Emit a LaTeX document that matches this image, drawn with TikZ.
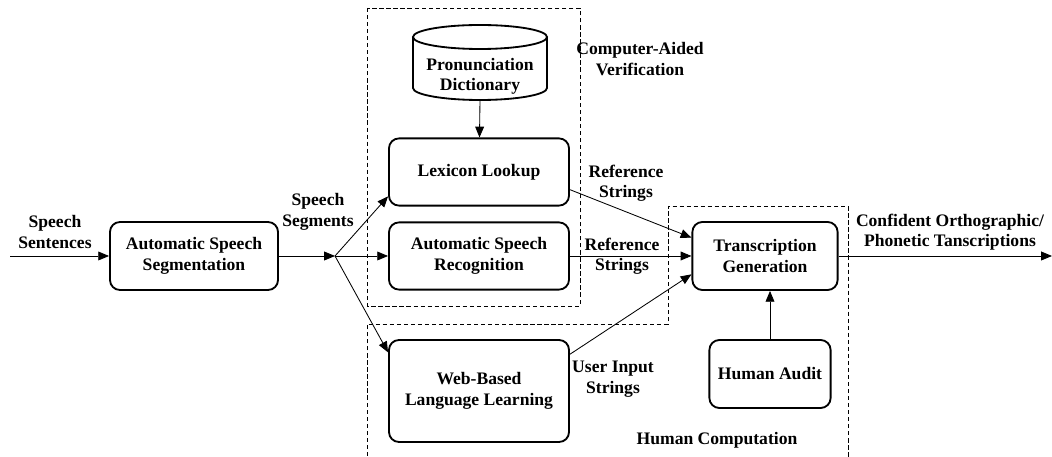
\documentclass[tikz,border=0pt]{standalone}
\usepackage{fontspec}
\setmainfont{Liberation Serif}
\usetikzlibrary{arrows.meta}

\tikzset{
	box/.style={draw, line width=1.3pt, rounded corners=0.25cm, fill=white, align=center, font=\fontsize{12.5}{14.5}\selectfont\bfseries},
	lbl/.style={align=center, font=\fontsize{12.5}{14.5}\selectfont\bfseries},
	arr/.style={-{Triangle[length=0.27cm,width=0.22cm]}, line width=0.6pt},
	area/.style={dashed, dash pattern=on 3pt off 2pt, line width=0.7pt}
}

\begin{document}
\begin{tikzpicture}[x=0.025cm, y=-0.025cm]
		\useasboundingbox (0,0) rectangle (1052,457);
		\draw[area] (367,8) rectangle (580,306);
		\draw[area] (367,470) -- (367,324) -- (668,324) -- (668,206) -- (848,206) -- (848,470);
		\draw[line width=1.3pt, fill=white] (413,37) -- (413,88) arc[start angle=180, end angle=0, x radius=67, y radius=12] -- (547,37);
		\draw[line width=1.3pt] (480,37) ellipse[x radius=67, y radius=12];
		\node[box, minimum width=4.2cm, minimum height=1.7cm] (seg) at (194,256) {Automatic Speech\\Segmentation};
		\node[box, minimum width=4.5cm, minimum height=1.68cm] (lex) at (479,172) {Lexicon Lookup};
		\node[box, minimum width=4.5cm, minimum height=1.68cm] (asr) at (479,256) {Automatic Speech\\Recognition};
		\node[box, minimum width=4.5cm, minimum height=2.55cm] (web) at (479,391) {Web-Based\\Language Learning};
		\node[box, minimum width=3.63cm, minimum height=1.7cm] (tg) at (765,256) {Transcription\\Generation};
		\node[box, minimum width=3.03cm, minimum height=1.7cm] (ha) at (770,374) {Human Audit};
		\node[lbl] (dict) at (480,76) {Pronunciation\\Dictionary};
		\coordinate (dictbase) at (480,100);
		\coordinate (in) at (10,256);
		\coordinate (split) at (335,256);
		\coordinate (out) at (1052,256);
		\draw[arr] (in) -- (seg);
		\draw[arr] (seg) -- (split);
		\draw[arr] (split) -- (lex.195);
		\draw[arr] (split) -- (asr);
		\draw[arr] (split) -- (web.157);
		\draw[arr] (dictbase) -- (lex);
		\draw[arr] (lex.-11) -- (tg.166);
		\draw[arr] (asr) -- (tg);
		\draw[arr] (web.22) -- (tg.194);
		\draw[arr] (ha.north) -- (ha.north |- tg.south);
		\draw[arr] (tg) -- (out);
		\node[lbl] (sentences) at (55,232) {Speech\\Sentences};
		\node[lbl] (segments) at (318,212) {Speech\\Segments};
		\node[lbl] (verification) at (640,59) {Computer-Aided\\Verification};
		\node[lbl] (ref1) at (626,183) {Reference\\Strings};
		\node[lbl] (ref2) at (622,256) {Reference\\Strings};
		\node[lbl] (user) at (613,379) {User Input\\Strings};
		\node[lbl] (human) at (717,440) {Human Computation};
		\node[lbl] (result) at (950,232) {Confident Orthographic/\\Phonetic Tanscriptions};
	\end{tikzpicture}
\end{document}
